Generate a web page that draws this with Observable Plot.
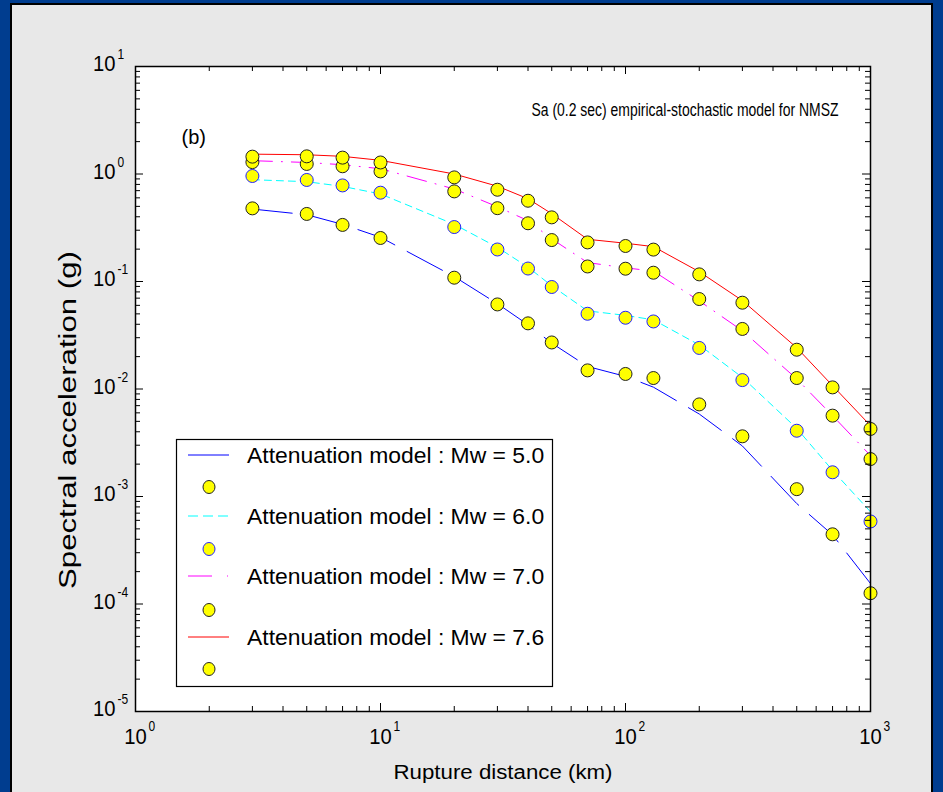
<!DOCTYPE html>
<html><head><meta charset="utf-8">
<script src="https://cdn.jsdelivr.net/npm/d3@7"></script>
<script src="https://cdn.jsdelivr.net/npm/@observablehq/plot@0.6"></script>
<style>
html,body{margin:0;padding:0;background:#003d8f;}
#page{position:relative;width:943px;height:792px;overflow:hidden;background:#003d8f;font-family:Arial,"Liberation Sans",sans-serif;}
#panel{position:absolute;left:10px;top:3px;width:923px;height:792px;box-sizing:border-box;background:#e8e8e8;border:2px solid #000;}
#chart{position:absolute;left:0;top:0;}
#legend{position:absolute;left:176px;top:439px;}
</style></head><body>
<div id="page"><div id="panel"></div><div id="chart"></div><div id="legend"></div></div>
<script>
// ---- data ----
const distances = [3, 5, 7, 10, 20, 30, 40, 50, 70, 100, 130, 200, 300, 500, 700, 1000];

const modelMw50 = [0.472, 0.418, 0.340, 0.258, 0.111, 0.0622, 0.0396, 0.0267, 0.0162, 0.0131, 0.0104, 0.00585, 0.00295, 0.00086, 0.00044, 0.000155];
const obsMw50   = [0.479, 0.425, 0.336, 0.254, 0.1085, 0.0612, 0.0408, 0.0271, 0.0149, 0.0138, 0.01265, 0.00719, 0.00363, 0.00117, 0.000445, 0.000126];

const modelMw60 = [0.885, 0.848, 0.767, 0.652, 0.340, 0.208, 0.136, 0.0911, 0.0533, 0.0484, 0.0440, 0.0257, 0.0128, 0.0043, 0.00175, 0.00072];
const obsMw60   = [0.958, 0.880, 0.783, 0.670, 0.321, 0.1985, 0.132, 0.0889, 0.0501, 0.0460, 0.0425, 0.0241, 0.0121, 0.00409, 0.00168, 0.000586];

const modelMw70 = [1.33, 1.28, 1.22, 1.12, 0.725, 0.496, 0.368, 0.249, 0.150, 0.134, 0.125, 0.066, 0.0348, 0.0124, 0.00565, 0.0024];
const obsMw70   = [1.29, 1.24, 1.18, 1.057, 0.689, 0.481, 0.348, 0.243, 0.138, 0.1315, 0.1207, 0.0687, 0.0362, 0.01265, 0.00565, 0.00223];

const modelMw76 = [1.53, 1.51, 1.46, 1.34, 1.00, 0.77, 0.589, 0.427, 0.247, 0.227, 0.211, 0.1233, 0.0664, 0.0242, 0.01074, 0.00456];
const obsMw76   = [1.45, 1.46, 1.42, 1.28, 0.93, 0.714, 0.564, 0.395, 0.231, 0.214, 0.198, 0.1165, 0.0635, 0.0232, 0.01035, 0.00425];

const seriesLabels = ["Attenuation model : Mw = 5.0", "Attenuation model : Mw = 6.0", "Attenuation model : Mw = 7.0", "Attenuation model : Mw = 7.6"];
const lineColors = ["#0000ff", "#00ffff", "#ff00ff", "#ff0000"];
const lineDashes = ["40,14", "7,5", "20,9,1,9", null];
const markerStrokes = ["#222222", "#2222ff", "#222222", "#222222"];

const xMajorTicks = [1, 10, 100, 1000];
const xTickExponents = ["0", "1", "2", "3"];
const yMajorTicks = [1e-5, 1e-4, 1e-3, 1e-2, 1e-1, 1, 10];
const yTickExponents = ["-5", "-4", "-3", "-2", "-1", "0", "1"];
const minorMultipliers = [2, 3, 4, 5, 6, 7, 8, 9];

const titleText = "Sa (0.2 sec) empirical-stochastic model for NMSZ";
const panelTag = "(b)";
const xLabel = "Rupture distance (km)";
const yLabel = "Spectral acceleration (g)";

// ---- build tables ----
const models = [modelMw50, modelMw60, modelMw70, modelMw76];
const obs = [obsMw50, obsMw60, obsMw70, obsMw76];
const lineRows = models.map((arr, s) => distances.map((d, i) => ({x: d, y: arr[i], s})));
const dotRows = obs.map((arr, s) => distances.map((d, i) => ({x: d, y: arr[i], s})));

const xMinorTicks = xMajorTicks.slice(0, -1).flatMap(m => minorMultipliers.map(k => k * m));
const yMinorTicks = yMajorTicks.slice(0, -1).flatMap(m => minorMultipliers.map(k => k * m));

const W = 943, H = 792, mL = 135, mR = 73, mT = 66, mB = 81;
const plotW = W - mL - mR, plotH = H - mT - mB;
const majorLen = 8, minorLen = 5;

const seriesMarks = [];
for (let s = 0; s < 4; s++) {
  seriesMarks.push(Plot.line(lineRows[s], {x: "x", y: "y", stroke: lineColors[s], strokeWidth: 1, strokeDasharray: lineDashes[s] || undefined}));
  seriesMarks.push(Plot.dot(dotRows[s], {x: "x", y: "y", r: 6.5, fill: "#ffff00", stroke: markerStrokes[s], strokeWidth: 1}));
}

const font = "Arial, 'Liberation Sans', sans-serif";

const chart = Plot.plot({
  width: W, height: H,
  marginLeft: mL, marginRight: mR, marginTop: mT, marginBottom: mB,
  style: {background: "transparent", overflow: "visible", fontFamily: font, color: "#000"},
  x: {type: "log", domain: [1, 1000], axis: null},
  y: {type: "log", domain: [1e-5, 10], axis: null},
  marks: [
    Plot.frame({fill: "#ffffff", stroke: null}),
    ...seriesMarks,
    // ticks (inside, on all four sides)
    Plot.ruleX(xMajorTicks, {x: d => d, insetTop: plotH - majorLen, stroke: "#000"}),
    Plot.ruleX(xMajorTicks, {x: d => d, insetBottom: plotH - majorLen, stroke: "#000"}),
    Plot.ruleX(xMinorTicks, {x: d => d, insetTop: plotH - minorLen, stroke: "#000"}),
    Plot.ruleX(xMinorTicks, {x: d => d, insetBottom: plotH - minorLen, stroke: "#000"}),
    Plot.ruleY(yMajorTicks, {y: d => d, insetRight: plotW - majorLen, stroke: "#000"}),
    Plot.ruleY(yMajorTicks, {y: d => d, insetLeft: plotW - majorLen, stroke: "#000"}),
    Plot.ruleY(yMinorTicks, {y: d => d, insetRight: plotW - minorLen, stroke: "#000"}),
    Plot.ruleY(yMinorTicks, {y: d => d, insetLeft: plotW - minorLen, stroke: "#000"}),
    Plot.frame({stroke: "#000", strokeWidth: 1.5}),
    // tick labels
    Plot.text(xMajorTicks, {x: d => d, y: 1e-5, text: () => "10", dy: 25.5, fontSize: 22, textAnchor: "middle", className: "tk-base"}),
    Plot.text(xMajorTicks, {x: d => d, y: 1e-5, text: (d, i) => xTickExponents[i], dx: 13, dy: 15, fontSize: 15, textAnchor: "start", className: "tk-exp"}),
    Plot.text(yMajorTicks, {x: 1, y: d => d, text: () => "10", dx: -20, dy: -2.5, fontSize: 22, textAnchor: "end", className: "tk-base"}),
    Plot.text(yMajorTicks, {x: 1, y: d => d, text: (d, i) => yTickExponents[i], dx: -18, dy: -12, fontSize: 15, textAnchor: "start", className: "tk-exp"}),
    // axis labels, title, panel tag
    Plot.text([xLabel], {frameAnchor: "bottom", text: d => d, dy: 61, fontSize: 20, textAnchor: "middle", lineAnchor: "middle", className: "lbl-x"}),
    Plot.text([yLabel], {frameAnchor: "left", text: d => d, dx: -67, dy: 31, rotate: -90, fontSize: 23, textAnchor: "middle", lineAnchor: "middle", className: "lbl-y"}),
    Plot.text([titleText], {frameAnchor: "top-left", text: d => d, dx: 531 - mL, dy: 110 - mT, fontSize: 17.5, textAnchor: "start", lineAnchor: "middle", className: "lbl-title"}),
    Plot.text([panelTag], {frameAnchor: "top-left", text: d => d, dx: 181 - mL, dy: 137 - mT, fontSize: 20, textAnchor: "start", lineAnchor: "middle"})
  ]
});
document.getElementById("chart").appendChild(chart);

// the reference's lettering is narrower/longer than Arial: fit the rendered lengths
function fitText(cls, lengthFn) {
  d3.select(chart).selectAll(`.${cls} text`).each(function() {
    const natural = this.getComputedTextLength();
    this.setAttribute("textLength", lengthFn(natural));
    this.setAttribute("lengthAdjust", "spacingAndGlyphs");
  });
}
fitText("tk-base", () => 22.5);
fitText("tk-exp", n => n * 0.8);
fitText("lbl-title", () => 307);
fitText("lbl-x", () => 219);
fitText("lbl-y", () => 338);

// ---- legend ----
const LW = 377, LH = 248;
const leg = d3.select("#legend").append("svg").attr("width", LW).attr("height", LH)
  .style("font-family", font).style("overflow", "visible");
leg.append("rect").attr("x", 0.5).attr("y", 0.5).attr("width", LW - 1).attr("height", LH - 1)
  .attr("fill", "#fff").attr("stroke", "#000").attr("stroke-width", 1.2);
const lineRowY = [16, 77, 137, 198];
const markRowY = [48, 110, 171, 230];
seriesLabels.forEach((label, s) => {
  const g = leg.append("g");
  const ln = g.append("line").attr("x1", 12).attr("x2", 53).attr("y1", lineRowY[s]).attr("y2", lineRowY[s])
    .attr("stroke", lineColors[s]).attr("stroke-width", 1);
  if (s === 1) ln.attr("stroke-dasharray", "10,5");
  if (s === 2) ln.attr("stroke-dasharray", "24,15,1,15");
  g.append("text").attr("x", 71).attr("y", lineRowY[s]).attr("dy", "0.35em")
    .attr("font-size", 22.9).attr("fill", "#000").text(label);
  g.append("ellipse").attr("cx", 33).attr("cy", markRowY[s]).attr("rx", 6).attr("ry", 6.5)
    .attr("fill", "#ffff00").attr("stroke", markerStrokes[s]).attr("stroke-width", 1);
});
</script>
</body></html>
